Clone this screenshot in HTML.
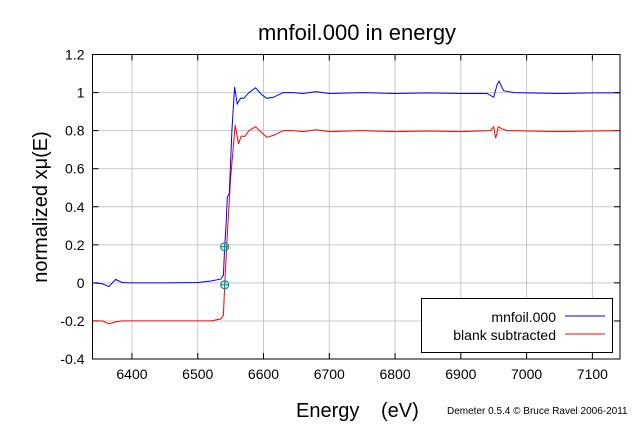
<!DOCTYPE html>
<html><head><meta charset="utf-8">
<style>
html,body{margin:0;padding:0;background:#fff;}
svg text{font-family:"Liberation Sans","DejaVu Sans",sans-serif;fill:#000;}
</style></head>
<body>
<svg id="chart" width="640" height="421" viewBox="0 0 640 421" xmlns="http://www.w3.org/2000/svg">
<g id="grid"></g>
<g id="ticks"></g>
<g id="series"></g>
<rect x="92.5" y="54.5" width="527.5" height="304.5" fill="none" stroke="#000" stroke-width="1"/>
<text x="357" y="40" font-size="22" text-anchor="middle">mnfoil.000 in energy</text>
<text transform="translate(47,207) rotate(-90)" font-size="20" text-anchor="middle">normalized xμ(E)</text>
<text x="296" y="417" font-size="20">Energy</text>
<text x="381" y="417" font-size="20">(eV)</text>
<text x="447" y="414" font-size="10">Demeter 0.5.4 © Bruce Ravel 2006-2011</text>
<g>
<rect x="421.5" y="298.5" width="191" height="54" fill="#fff" stroke="#000"/>
<text x="556" y="322" font-size="14" text-anchor="end">mnfoil.000</text>
<line x1="565" y1="316" x2="605" y2="316" stroke="#0000ff"/>
<text x="556" y="340" font-size="14" text-anchor="end">blank subtracted</text>
<line x1="565" y1="334" x2="605" y2="334" stroke="#ff0000"/>
</g>
</svg>
<script>
const xTicks=[6400,6500,6600,6700,6800,6900,7000,7100];
const yTicks=[-0.4,-0.2,0,0.2,0.4,0.6,0.8,1,1.2];
const yTickLabels=["-0.4","-0.2","0","0.2","0.4","0.6","0.8","1","1.2"];
const blueE=[6340,6355,6365,6375,6385,6400,6450,6500,6520,6535,6539,6541,6543,6545,6548,6552,6556,6560,6565,6570,6578,6588,6597,6605,6615,6630,6645,6660,6680,6700,6750,6800,6850,6900,6940,6950,6955,6958,6965,6980,7000,7050,7100,7142];
const blueMu=[0.0,-0.005,-0.02,0.018,0.002,0,0,0.002,0.01,0.02,0.04,0.19,0.3,0.45,0.47,0.8,1.03,0.94,0.97,0.97,1.0,1.025,0.99,0.97,0.975,1.0,1.0,0.995,1.005,0.995,1.0,0.995,0.998,0.995,0.995,0.975,1.04,1.06,1.01,1.0,0.998,0.995,0.998,0.998];
const redE=[6340,6355,6365,6375,6385,6400,6450,6500,6520,6535,6539,6541,6545,6550,6557,6562,6566,6572,6578,6588,6597,6605,6615,6630,6645,6660,6680,6700,6750,6800,6850,6900,6945,6950,6953,6957,6962,6970,7000,7050,7100,7142];
const redMu=[-0.2,-0.2,-0.215,-0.205,-0.2,-0.2,-0.2,-0.2,-0.2,-0.19,-0.17,-0.01,0.25,0.55,0.83,0.73,0.77,0.77,0.8,0.82,0.79,0.765,0.775,0.8,0.8,0.795,0.805,0.795,0.8,0.795,0.798,0.795,0.8,0.82,0.76,0.82,0.81,0.8,0.798,0.795,0.798,0.8];
const markerE=[6541,6541];
const markerMu=[0.19,-0.01];

const X0=6340,X1=7142,Y0=-0.4,Y1=1.2;
const L=92.5,R=620,T=54.5,B=359;
const sx=e=>L+(e-X0)/(X1-X0)*(R-L);
const sy=v=>B-(v-Y0)/(Y1-Y0)*(B-T);
const NS="http://www.w3.org/2000/svg";
const grid=document.getElementById('grid'),ticks=document.getElementById('ticks'),ser=document.getElementById('series');
function mk(tag,attrs,parent){const el=document.createElementNS(NS,tag);for(const k in attrs)el.setAttribute(k,attrs[k]);parent.appendChild(el);return el;}
xTicks.forEach(t=>{
  const x=sx(t);
  const g=mk('line',{x1:x,y1:T,x2:x,y2:B,stroke:'#c8c8c8','stroke-width':1},grid);
  
  
  const t1=mk('line',{x1:x,y1:B,x2:x,y2:B-6,stroke:'#000'},ticks);
  
  
  const t2=mk('line',{x1:x,y1:T,x2:x,y2:T+6,stroke:'#000'},ticks);
  
  
  const lb=mk('text',{x:x,y:B+20,'font-size':14,'text-anchor':'middle'},ticks);
  lb.textContent=t;
  
  
});
yTicks.forEach((t,i)=>{
  const y=sy(t);
  if(i>0&&i<yTicks.length-1){
    const g=mk('line',{x1:L,y1:y,x2:R,y2:y,stroke:'#c8c8c8','stroke-width':1},grid);
    
    
  }
  const t1=mk('line',{x1:L,y1:y,x2:L+6,y2:y,stroke:'#000'},ticks);
  
  
  const t2=mk('line',{x1:R,y1:y,x2:R-6,y2:y,stroke:'#000'},ticks);
  
  
  const lb=mk('text',{x:L-8,y:y+5,'font-size':14,'text-anchor':'end'},ticks);
  lb.textContent=yTickLabels[i];
  
  
});
function line(E,M,color,name){
  const d=E.map((e,i)=>(i?'L':'M')+sx(e).toFixed(1)+','+sy(M[i]).toFixed(1)).join('');
  const p=mk('path',{d:d,fill:'none',stroke:color,'stroke-width':1},ser);
  
  
}
line(redE,redMu,'#ff0000','blank-subtracted-line');
line(blueE,blueMu,'#0000ff','mnfoil-line');
markerE.forEach((e,i)=>{
  const cx=sx(e),cy=sy(markerMu[i]);
  const g=mk('g',{},ser);
  
  
  mk('circle',{cx:cx,cy:cy,r:4,fill:'none',stroke:'#009999','stroke-width':1.2},g);
  mk('line',{x1:cx-4,y1:cy,x2:cx+4,y2:cy,stroke:'#009999','stroke-width':1.2},g);
  mk('line',{x1:cx,y1:cy-4,x2:cx,y2:cy+4,stroke:'#009999','stroke-width':1.2},g);
});
</script>
</body></html>
